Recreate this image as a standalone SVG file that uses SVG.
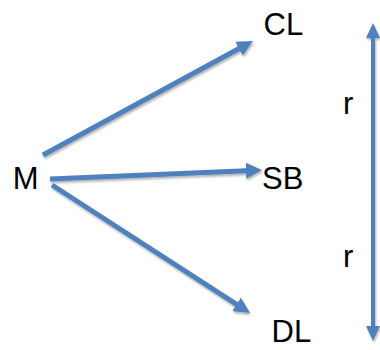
<svg xmlns="http://www.w3.org/2000/svg" width="380" height="350" viewBox="0 0 380 350">
  <defs>
    <style>
      .lbl { font-family: "Liberation Sans", Arial, sans-serif; font-size: 31px; fill: #000; }
      .conn { stroke: #4F81BD; stroke-width: 5; fill: none; }
      .vconn { stroke: #4F81BD; stroke-width: 4; fill: none; }
    </style>
    <filter id="sh" x="-20%" y="-20%" width="140%" height="140%">
      <feDropShadow dx="1" dy="2" stdDeviation="1.2" flood-color="#000" flood-opacity="0.3"/>
    </filter>
    <marker id="ah" viewBox="0 0 16 16" refX="6" refY="8" markerWidth="16" markerHeight="16" markerUnits="userSpaceOnUse" orient="auto-start-reverse">
      <path d="M0,0 L16,8 L0,16 z" fill="#4F81BD"/>
    </marker>
    <marker id="vh" viewBox="0 0 15 14" refX="5" refY="7" markerWidth="15" markerHeight="14" markerUnits="userSpaceOnUse" orient="auto-start-reverse">
      <path d="M0,0 L15,7 L0,14 z" fill="#4F81BD"/>
    </marker>
  </defs>
  <rect width="380" height="350" fill="#fff"/>
  <g id="connectors" filter="url(#sh)">
    <line class="conn" x1="43" y1="155" x2="244.2" y2="45.8" marker-end="url(#ah)"/>
    <line class="conn" x1="50" y1="179" x2="252" y2="170.4" marker-end="url(#ah)"/>
    <line class="conn" x1="52" y1="185" x2="241.6" y2="307.6" marker-end="url(#ah)"/>
    <line class="vconn" x1="373" y1="33" x2="373" y2="331" marker-start="url(#vh)" marker-end="url(#vh)"/>
  </g>
  <g id="M"><text class="lbl" x="12.7" y="189">M</text></g>
  <g id="CL"><text class="lbl" x="263.5" y="34.5">CL</text></g>
  <g id="SB"><text class="lbl" x="262" y="189">SB</text></g>
  <g id="DL"><text class="lbl" x="271.5" y="342">DL</text></g>
  <g id="r1"><text class="lbl" x="343" y="114">r</text></g>
  <g id="r2"><text class="lbl" x="343" y="267">r</text></g>
</svg>
